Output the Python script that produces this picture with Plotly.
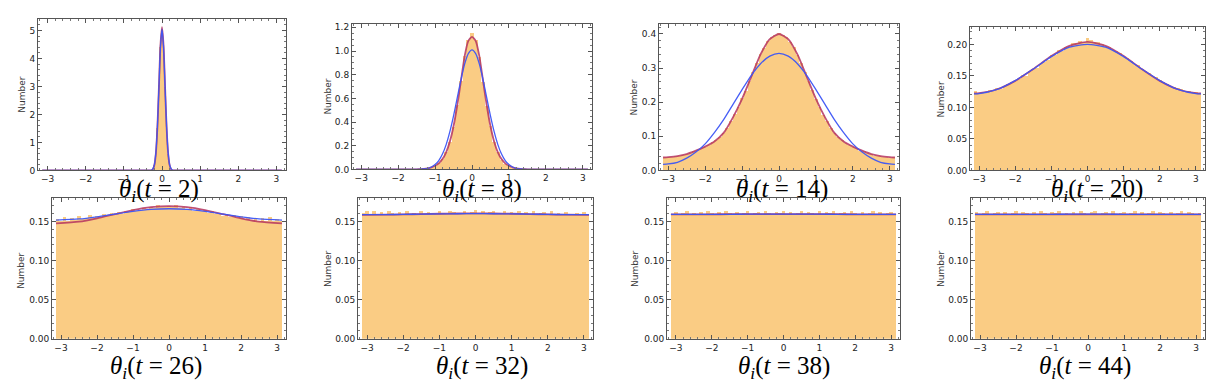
import plotly.graph_objects as go
from plotly.subplots import make_subplots

# ---------------- data ----------------
TIMES = [2, 8, 14, 20, 26, 32, 38, 44]

# shared histogram bin centres (bin width 0.1) for panels t=8 .. t=44
THETA_BINS = [-3.1, -3.0, -2.9, -2.8, -2.7, -2.6, -2.5, -2.4, -2.3, -2.2, -2.1,
              -2.0, -1.9, -1.8, -1.7, -1.6, -1.5, -1.4, -1.3, -1.2, -1.1,
              -1.0, -0.9, -0.8, -0.7, -0.6, -0.5, -0.4, -0.3, -0.2, -0.1,
              0.0, 0.1, 0.2, 0.3, 0.4, 0.5, 0.6, 0.7, 0.8, 0.9, 1.0,
              1.1, 1.2, 1.3, 1.4, 1.5, 1.6, 1.7, 1.8, 1.9, 2.0,
              2.1, 2.2, 2.3, 2.4, 2.5, 2.6, 2.7, 2.8, 2.9, 3.0, 3.1]

# t = 2 : narrow peak, fine bins (width 0.04)
BINS_T2 = [-0.28, -0.24, -0.20, -0.16, -0.12, -0.08, -0.04, 0.0,
           0.04, 0.08, 0.12, 0.16, 0.20, 0.24, 0.28]
HIST_T2 = [0.01, 0.05, 0.19, 0.63, 1.52, 3.05, 4.42, 5.08,
           4.50, 2.98, 1.58, 0.60, 0.20, 0.04, 0.01]

HIST_T8 = [0, 0, 0, 0, 0, 0, 0, 0, 0, 0, 0, 0, 0, 0, 0, 0,
           0.001, 0.003, 0.006, 0.011, 0.019, 0.032, 0.053, 0.089, 0.148, 0.238,
           0.362, 0.548, 0.752, 0.962, 1.092,
           1.155,
           1.098, 0.948, 0.741, 0.536, 0.370, 0.232, 0.146, 0.086, 0.051, 0.030,
           0.018, 0.010, 0.005, 0.003, 0.001,
           0, 0, 0, 0, 0, 0, 0, 0, 0, 0, 0, 0, 0, 0, 0, 0]

HIST_T14 = [0.039, 0.040, 0.040, 0.042, 0.043, 0.046, 0.048, 0.051, 0.057, 0.060,
            0.066, 0.069, 0.076, 0.083, 0.089, 0.100, 0.111, 0.126, 0.146, 0.166,
            0.186, 0.212, 0.235, 0.263, 0.290, 0.315, 0.342, 0.361, 0.380, 0.391,
            0.399,
            0.403,
            0.397, 0.392, 0.377, 0.363, 0.339, 0.317, 0.288, 0.263, 0.237, 0.209,
            0.188, 0.164, 0.146, 0.126, 0.111, 0.098, 0.091, 0.081, 0.076, 0.069,
            0.066, 0.059, 0.057, 0.051, 0.049, 0.044, 0.044, 0.040, 0.041, 0.038,
            0.039]

HIST_T20 = [0.126, 0.123, 0.125, 0.124, 0.128, 0.127, 0.131, 0.130, 0.135, 0.137,
            0.140, 0.143, 0.146, 0.152, 0.151, 0.158, 0.161, 0.163, 0.169, 0.172,
            0.176, 0.184, 0.183, 0.191, 0.190, 0.196, 0.198, 0.203, 0.202, 0.206,
            0.205,
            0.210,
            0.207, 0.205, 0.204, 0.201, 0.198, 0.196, 0.191, 0.190, 0.186, 0.181,
            0.179, 0.174, 0.170, 0.167, 0.162, 0.158, 0.155, 0.151, 0.148, 0.144,
            0.141, 0.138, 0.135, 0.133, 0.131, 0.129, 0.127, 0.126, 0.124, 0.125,
            0.123]

HIST_T26 = [0.153, 0.151, 0.156, 0.150, 0.154, 0.152, 0.157, 0.153, 0.155, 0.158,
            0.154, 0.157, 0.156, 0.159, 0.157, 0.161, 0.158, 0.162, 0.160, 0.163,
            0.162, 0.166, 0.163, 0.165, 0.167, 0.166, 0.169, 0.167, 0.171, 0.168,
            0.169,
            0.170,
            0.168, 0.171, 0.167, 0.169, 0.166, 0.168, 0.164, 0.166, 0.163, 0.165,
            0.161, 0.163, 0.159, 0.161, 0.157, 0.160, 0.156, 0.158, 0.154, 0.157,
            0.153, 0.156, 0.152, 0.155, 0.151, 0.154, 0.150, 0.156, 0.151, 0.153,
            0.150]

HIST_T32 = [0.161, 0.163, 0.159, 0.164, 0.160, 0.162, 0.158,
            0.163, 0.161, 0.159, 0.162, 0.160, 0.164, 0.159,
            0.161, 0.158, 0.163, 0.160, 0.162, 0.161, 0.159,
            0.163, 0.161, 0.160, 0.164, 0.162, 0.159, 0.161,
            0.163, 0.160, 0.162, 0.165, 0.161, 0.163, 0.160,
            0.162, 0.164, 0.159, 0.161, 0.163, 0.160, 0.162,
            0.161, 0.164, 0.159, 0.162, 0.160, 0.163, 0.158,
            0.161, 0.162, 0.159, 0.163, 0.160, 0.161, 0.158,
            0.162, 0.160, 0.159, 0.161, 0.158, 0.162, 0.160]

HIST_T38 = [0.160, 0.162, 0.159, 0.161, 0.163, 0.160, 0.161,
            0.159, 0.162, 0.160, 0.163, 0.161, 0.159, 0.162,
            0.160, 0.164, 0.161, 0.159, 0.162, 0.160, 0.161,
            0.163, 0.159, 0.161, 0.162, 0.160, 0.164, 0.161,
            0.159, 0.162, 0.161, 0.163, 0.160, 0.162, 0.159,
            0.161, 0.163, 0.160, 0.162, 0.161, 0.159, 0.163,
            0.160, 0.162, 0.161, 0.164, 0.159, 0.161, 0.162,
            0.160, 0.163, 0.161, 0.159, 0.162, 0.160, 0.161,
            0.163, 0.160, 0.162, 0.159, 0.161, 0.162, 0.160]

HIST_T44 = [0.162, 0.160, 0.161, 0.163, 0.159, 0.161, 0.162,
            0.160, 0.162, 0.159, 0.161, 0.163, 0.160, 0.162,
            0.161, 0.159, 0.162, 0.160, 0.164, 0.161, 0.159,
            0.162, 0.161, 0.163, 0.160, 0.161, 0.159, 0.162,
            0.160, 0.163, 0.161, 0.159, 0.162, 0.164, 0.160,
            0.161, 0.162, 0.160, 0.163, 0.159, 0.161, 0.162,
            0.160, 0.161, 0.163, 0.159, 0.162, 0.160, 0.161,
            0.163, 0.160, 0.162, 0.161, 0.159, 0.162, 0.160,
            0.161, 0.163, 0.160, 0.162, 0.161, 0.159, 0.161]

# fitted curves (red = fit 1, blue = fit 2)
CURVE_X_T2 = [-3.14, -0.4, -0.32, -0.28, -0.24, -0.20, -0.16, -0.12, -0.08, -0.04, 0.0,
              0.04, 0.08, 0.12, 0.16, 0.20, 0.24, 0.28, 0.32, 0.4, 3.14]
RED_T2 = [0, 0, 0.001, 0.005, 0.045, 0.19, 0.62, 1.56, 3.01, 4.47, 5.12,
          4.47, 3.01, 1.56, 0.62, 0.19, 0.045, 0.005, 0.001, 0, 0]
BLUE_T2 = [0, 0, 0.002, 0.008, 0.055, 0.21, 0.65, 1.58, 3.00, 4.42, 5.05,
           4.42, 3.00, 1.58, 0.65, 0.21, 0.055, 0.008, 0.002, 0, 0]

CURVE_X_T8 = [-3.14, -1.6, -1.5, -1.4, -1.3, -1.2, -1.1, -1.0, -0.9, -0.8, -0.7, -0.6,
              -0.5, -0.4, -0.3, -0.2, -0.1, 0.0, 0.1, 0.2, 0.3, 0.4, 0.5, 0.6, 0.7,
              0.8, 0.9, 1.0, 1.1, 1.2, 1.3, 1.4, 1.5, 1.6, 3.14]
RED_T8 = [0, 0, 0.001, 0.003, 0.005, 0.010, 0.018, 0.031, 0.052, 0.088, 0.145, 0.235,
          0.365, 0.540, 0.745, 0.955, 1.085, 1.120, 1.085, 0.955, 0.745, 0.540, 0.365,
          0.235, 0.145, 0.088, 0.052, 0.031, 0.018, 0.010, 0.005, 0.003, 0.001, 0, 0]
BLUE_T8 = [0, 0, 0.001, 0.002, 0.004, 0.010, 0.021, 0.041, 0.075, 0.130, 0.210, 0.319,
           0.453, 0.605, 0.757, 0.889, 0.978, 1.010, 0.978, 0.889, 0.757, 0.605, 0.453,
           0.319, 0.210, 0.130, 0.075, 0.041, 0.021, 0.010, 0.004, 0.002, 0.001, 0, 0]

CURVE_X_T14 = [-3.14, -3.0, -2.75, -2.5, -2.25, -2.0, -1.75, -1.5, -1.25, -1.0, -0.75,
               -0.5, -0.25, 0.0, 0.25, 0.5, 0.75, 1.0, 1.25, 1.5, 1.75, 2.0, 2.25,
               2.5, 2.75, 3.0, 3.14]
RED_T14 = [0.038, 0.039, 0.042, 0.048, 0.058, 0.070, 0.085, 0.110, 0.155, 0.210, 0.275,
           0.340, 0.385, 0.400, 0.385, 0.340, 0.275, 0.210, 0.155, 0.110, 0.085, 0.070,
           0.058, 0.048, 0.042, 0.039, 0.038]
BLUE_T14 = [0.018, 0.019, 0.024, 0.036, 0.054, 0.078, 0.111, 0.149, 0.193, 0.237, 0.279,
            0.313, 0.335, 0.343, 0.335, 0.313, 0.279, 0.237, 0.193, 0.149, 0.111, 0.078,
            0.054, 0.036, 0.024, 0.019, 0.018]

CURVE_X_T20 = [-3.14, -3.0, -2.5, -2.0, -1.5, -1.0, -0.5, 0.0, 0.5, 1.0, 1.5, 2.0, 2.5,
               3.0, 3.14]
RED_T20 = [0.1223, 0.1227, 0.1288, 0.1421, 0.1609, 0.1814, 0.1977, 0.2040, 0.1977,
           0.1814, 0.1609, 0.1421, 0.1288, 0.1227, 0.1223]
BLUE_T20 = [0.1215, 0.1218, 0.1285, 0.1425, 0.1608, 0.1805, 0.1955, 0.2000, 0.1955,
            0.1805, 0.1608, 0.1425, 0.1285, 0.1218, 0.1215]

CURVE_X_LATE = [-3.14, -2.5, -2.0, -1.5, -1.0, -0.5, 0.0, 0.5, 1.0, 1.5, 2.0, 2.5, 3.14]
RED_T26 = [0.1475, 0.1497, 0.1540, 0.1594, 0.1646, 0.1683, 0.1697, 0.1683, 0.1646,
           0.1594, 0.1540, 0.1497, 0.1475]
BLUE_T26 = [0.1517, 0.1532, 0.1560, 0.1595, 0.1629, 0.1654, 0.1663, 0.1654, 0.1629,
            0.1595, 0.1560, 0.1532, 0.1517]
RED_T32 = [0.1585, 0.1587, 0.1590, 0.1595, 0.1599, 0.1602, 0.1603, 0.1602, 0.1599,
           0.1595, 0.1590, 0.1587, 0.1585]
BLUE_T32 = [0.1587, 0.1588, 0.1591, 0.1594, 0.1597, 0.1599, 0.1600, 0.1599, 0.1597,
            0.1594, 0.1591, 0.1588, 0.1587]
RED_T38 = [0.1590, 0.1591, 0.1592, 0.1593, 0.1594, 0.1594, 0.1594, 0.1594, 0.1594,
           0.1593, 0.1592, 0.1591, 0.1590]
BLUE_T38 = [0.1591, 0.1592, 0.1592, 0.1592, 0.1593, 0.1593, 0.1593, 0.1593, 0.1593,
            0.1592, 0.1592, 0.1592, 0.1591]
RED_T44 = [0.1591, 0.1591, 0.1592, 0.1592, 0.1592, 0.1592, 0.1592, 0.1592, 0.1592,
           0.1592, 0.1592, 0.1591, 0.1591]
BLUE_T44 = [0.1592, 0.1592, 0.1592, 0.1592, 0.1592, 0.1593, 0.1593, 0.1593, 0.1592,
            0.1592, 0.1592, 0.1592, 0.1592]

Y_TICKS = [
    [0, 1, 2, 3, 4, 5],
    [0.0, 0.2, 0.4, 0.6, 0.8, 1.0, 1.2],
    [0.0, 0.1, 0.2, 0.3, 0.4],
    [0.00, 0.05, 0.10, 0.15, 0.20],
    [0.00, 0.05, 0.10, 0.15],
    [0.00, 0.05, 0.10, 0.15],
    [0.00, 0.05, 0.10, 0.15],
    [0.00, 0.05, 0.10, 0.15],
]
X_TICKS = [-3, -2, -1, 0, 1, 2, 3]

panels = [
    (BINS_T2, HIST_T2, 0.04, CURVE_X_T2, RED_T2, BLUE_T2),
    (THETA_BINS, HIST_T8, 0.1, CURVE_X_T8, RED_T8, BLUE_T8),
    (THETA_BINS, HIST_T14, 0.1, CURVE_X_T14, RED_T14, BLUE_T14),
    (THETA_BINS, HIST_T20, 0.1, CURVE_X_T20, RED_T20, BLUE_T20),
    (THETA_BINS, HIST_T26, 0.1, CURVE_X_LATE, RED_T26, BLUE_T26),
    (THETA_BINS, HIST_T32, 0.1, CURVE_X_LATE, RED_T32, BLUE_T32),
    (THETA_BINS, HIST_T38, 0.1, CURVE_X_LATE, RED_T38, BLUE_T38),
    (THETA_BINS, HIST_T44, 0.1, CURVE_X_LATE, RED_T44, BLUE_T44),
]

# ---------------- layout / style ----------------
W, H = 1214, 386
# plot boxes in pixels: (left, right, top, bottom)
BOXES = [(30, 278, 10, 164), (344, 584, 15, 163), (651, 891, 15, 164), (962, 1197, 18, 164),
         (44, 278, 192, 335), (350, 585, 192, 335), (659, 892, 192, 335), (963, 1197, 192, 335)]
Y_MAX = [5.42, 1.23, 0.43, 0.228, 0.18, 0.18, 0.18, 0.18]
Y_FMT = ["d", ".1f", ".1f", ".2f", ".2f", ".2f", ".2f", ".2f"]
Y_MINOR = [0.2, 0.05, 0.02, 0.01, 0.01, 0.01, 0.01, 0.01]
TITLE_POS = [(151, 184), (474, 184), (774, 184), (1089, 184),
             (148, 364), (474, 364), (776, 364), (1077, 364)]
NUMBER_POS = [(14, 87), (320, 89), (626, 90), (933, 92),
              (13, 266), (320, 264), (627, 264), (933, 264)]

ORANGE = "rgb(250,204,132)"
RED = "rgba(180,50,95,0.85)"
BLUE = "rgba(60,85,245,0.95)"
FRAME = "#555555"

fig = make_subplots(rows=2, cols=4)

for i, (bx, hy, bw, cx, ry, by) in enumerate(panels):
    r, c = i // 4 + 1, i % 4 + 1
    fig.add_trace(go.Bar(x=bx, y=hy, width=bw, marker=dict(color=ORANGE, line=dict(width=0)),
                         showlegend=False, hoverinfo="skip"), row=r, col=c)
    fig.add_trace(go.Scatter(x=cx, y=ry, mode="lines",
                             line=dict(color=RED, width=1.8, shape="spline", smoothing=0.6),
                             showlegend=False), row=r, col=c)
    fig.add_trace(go.Scatter(x=cx, y=by, mode="lines",
                             line=dict(color=BLUE, width=1.3, shape="spline", smoothing=0.6),
                             showlegend=False), row=r, col=c)

    L, R, T, B = BOXES[i]
    fig.update_xaxes(domain=[L / W, R / W], range=[-3.25, 3.25],
                     tickvals=X_TICKS, showgrid=False, zeroline=False,
                     showline=True, mirror="allticks", linecolor=FRAME, linewidth=1,
                     ticks="inside", ticklen=4, tickcolor=FRAME,
                     minor=dict(ticks="inside", ticklen=2, dtick=0.2, tickcolor="#777", showgrid=False),
                     tickfont=dict(family="DejaVu Sans", size=9, color="#222"),
                     row=r, col=c)
    fig.update_yaxes(domain=[1 - B / H, 1 - T / H], range=[0, Y_MAX[i]],
                     tickvals=Y_TICKS[i], tickformat=Y_FMT[i], showgrid=False, zeroline=False,
                     showline=True, mirror="allticks", linecolor=FRAME, linewidth=1,
                     ticks="inside", ticklen=4, tickcolor=FRAME,
                     minor=dict(ticks="inside", ticklen=2, dtick=Y_MINOR[i], tickcolor="#777", showgrid=False),
                     tickfont=dict(family="DejaVu Sans", size=9, color="#222"),
                     row=r, col=c)

annotations = []
for i, t in enumerate(TIMES):
    tx, ty = TITLE_POS[i]
    annotations.append(dict(
        x=tx / W, y=1 - ty / H, xref="paper", yref="paper", showarrow=False,
        xanchor="center", yanchor="middle",
        text=f"<i>θ</i><sub><i>i</i></sub>(<i>t</i> = {t})",
        font=dict(family="Liberation Serif", size=25, color="#000")))
    nx, ny = NUMBER_POS[i]
    annotations.append(dict(
        x=nx / W, y=1 - ny / H, xref="paper", yref="paper", showarrow=False,
        xanchor="center", yanchor="middle", textangle=-90, text="Number",
        font=dict(family="DejaVu Sans", size=9, color="#333")))

fig.update_layout(width=W, height=H, margin=dict(l=0, r=0, t=0, b=0),
                  paper_bgcolor="white", plot_bgcolor="white",
                  bargap=0, barmode="overlay", annotations=annotations,
                  showlegend=False)

fig.write_html("out.html")
